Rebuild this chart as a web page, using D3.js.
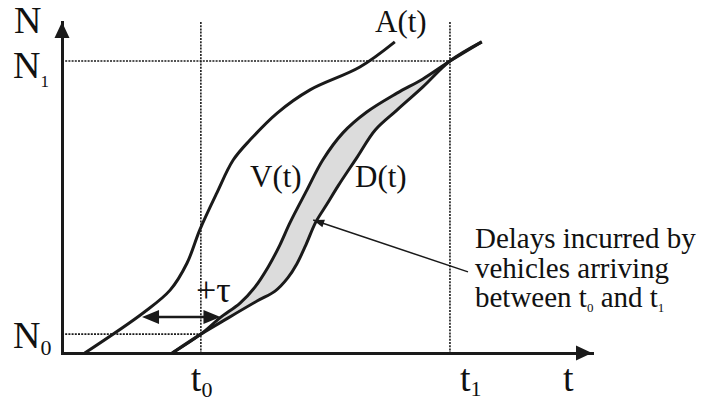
<!DOCTYPE html>
<html>
<head>
<meta charset="utf-8">
<script src="https://cdn.jsdelivr.net/npm/d3@7"></script>
<style>
body { margin: 0; background: #fff; }
svg { display: block; }
</style>
</head>
<body>
<svg width="701" height="403"></svg>
<script>
// **** data: cumulative curves as [t, N], both axes run 0..100 ****
const arrivalCurve = [[4.3,0],[15.3,12.1],[20.4,19.0],[23.6,27.2],[26.0,37.2],[29.2,48.3],[32.3,58.3],
    [35.5,64.4],[40.6,72.5],[46.8,79.5],[56.2,86.4],[62.8,94.0]];
const virtualCurve = [[20.8,0],[26.2,5.7],[29.8,10.6],[33.6,15.1],[36.4,19.9],[38.9,26.0],[41.1,32.6],
    [43.0,39.3],[46.2,49.2],[49.2,58.3],[53.0,66.5],[57.5,72.8],[63.2,78.5],[68.1,82.8],[73.2,88.2],[79.2,94.0]];
const departureCurve = [[20.8,0],[26.2,5.7],[30.4,9.7],[36.8,15.7],[40.2,18.7],[42.6,22.7],[44.3,26.9],
    [46.0,32.6],[47.9,39.6],[50.0,45.0],[52.1,50.5],[55.7,59.2],[59.1,67.4],[63.2,73.4],[68.1,80.4],[73.2,88.2],[79.2,94.0]];

const tMarks = [26.2, 73.2];   // t0, t1
const nMarks = [5.7, 88.2];    // N0, N1
const tauArrow = [15.1, 29.9, 10.9]; // from t, to t, at N
const pointer = [[76.6,24.5],[47.4,40.2]];
const noteLines = ['Delays incurred by', 'vehicles arriving'];

// **** scales ****
var x = d3.scaleLinear().domain([0,100]).range([62,592]);
var y = d3.scaleLinear().domain([0,100]).range([353,22]);

var svg = d3.select('svg')
    .style('font-family', '"Liberation Serif", "Times New Roman", "DejaVu Serif", serif');
const ink = '#1a1a1a';

const line = d3.line()
    .x(d => x(d[0]))
    .y(d => y(d[1]))
    .curve(d3.curveCatmullRom.alpha(0.5));

// shaded area between V(t) and D(t)
const fillPath = line(virtualCurve) + 'L' + line(departureCurve.slice().reverse()).slice(1) + 'Z';
svg.append('path')
    .attr('d', fillPath)
    .style('fill', '#dcdcdc');

// dotted guides
const guides = svg.append('g')
    .style('stroke', ink)
    .style('stroke-width', 1.6)
    .style('stroke-dasharray', '2,1.2');

guides.append('line').attr('x1', x(0)).attr('x2', x(tMarks[1])).attr('y1', y(nMarks[1])).attr('y2', y(nMarks[1]));
guides.append('line').attr('x1', x(0)).attr('x2', x(tMarks[0])).attr('y1', y(nMarks[0])).attr('y2', y(nMarks[0]));
tMarks.forEach(t => {
    guides.append('line').attr('x1', x(t)).attr('x2', x(t)).attr('y1', y(100)).attr('y2', y(0));
});

// axes (no ticks, just the arrows)
svg.append('g').attr('class', 'x axis')
    .attr('transform', `translate(0,${y(0)})`)
    .call(d3.axisBottom(x).tickValues([]).tickSizeOuter(0));

svg.append('g').attr('class', 'y axis')
    .attr('transform', `translate(${x(0)},0)`)
    .call(d3.axisLeft(y).tickValues([]).tickSizeOuter(0));

svg.selectAll('.domain')
    .style('stroke', ink)
    .style('stroke-width', 3)
    .style('stroke-linecap', 'square');

svg.append('path')
    .attr('d', `M${x(100)},${y(0)} l-16,-7.5 v15 Z M${x(0)},${y(100)} l-7.5,16 h15 Z`)
    .style('fill', ink);

// curves
svg.selectAll('.curve')
    .data([arrivalCurve, virtualCurve, departureCurve])
    .join('path')
    .attr('class', 'curve')
    .attr('d', line)
    .style('fill', 'none')
    .style('stroke', ink)
    .style('stroke-width', 3)
    .style('stroke-linejoin', 'round');

// +tau double arrow
const ta = x(tauArrow[0]), tb = x(tauArrow[1]), ty = y(tauArrow[2]);
svg.append('line')
    .attr('x1', ta + 8).attr('x2', tb - 8).attr('y1', ty).attr('y2', ty)
    .style('stroke', ink).style('stroke-width', 2.5);
svg.append('path')
    .attr('d', `M${ta},${ty} l17,-7 v14 Z M${tb},${ty} l-17,-7 v14 Z`)
    .style('fill', ink);

// pointer to the shaded area
const p0 = [x(pointer[0][0]), y(pointer[0][1])];
const p1 = [x(pointer[1][0]), y(pointer[1][1])];
const ang = Math.atan2(p1[1] - p0[1], p1[0] - p0[0]) * 180 / Math.PI;
svg.append('line')
    .attr('x1', p0[0]).attr('y1', p0[1]).attr('x2', p1[0]).attr('y2', p1[1])
    .style('stroke', ink).style('stroke-width', 1.5);
svg.append('path')
    .attr('d', 'M0,0 l-11,-4 v8 Z')
    .attr('transform', `translate(${p1[0]},${p1[1]}) rotate(${ang})`)
    .style('fill', ink);

// **** labels ****
function addText(px, py, s, size) {
    return svg.append('text')
        .attr('x', px).attr('y', py)
        .style('font-size', size + 'px')
        .style('fill', '#111')
        .text(s);
}

function subLabel(px, py, main, sub, size, subSize, dy) {
    const t = addText(px, py, null, size);
    t.append('tspan').text(main);
    t.append('tspan').attr('dy', dy).style('font-size', subSize + 'px').text(sub);
    return t;
}

addText(14, 33, 'N', 38);
subLabel(13, 78, 'N', '1', 38, 17, 9);
subLabel(13, 348, 'N', '0', 38, 22, 7);
subLabel(x(tMarks[0]) - 10, 391, 't', '0', 38, 22, 6);
subLabel(x(tMarks[1]) + 10, 391, 't', '1', 38, 22, 5);
addText(563, 391, 't', 38);

addText(375, 32, 'A(t)', 31);
addText(250, 187, 'V(t)', 31);
addText(355, 187, 'D(t)', 31);
addText(196, 302, '+τ', 36);

noteLines.forEach((s, i) => addText(475, 248 + i * 29.5, s, 29));

const last = addText(475, 307, null, 29);
last.append('tspan').text('between t');
last.append('tspan').attr('dy', 5).style('font-size', '13px').text('0');
last.append('tspan').attr('dy', -5).text(' and t');
last.append('tspan').attr('dy', 5).style('font-size', '13px').text('1');
</script>
</body>
</html>
